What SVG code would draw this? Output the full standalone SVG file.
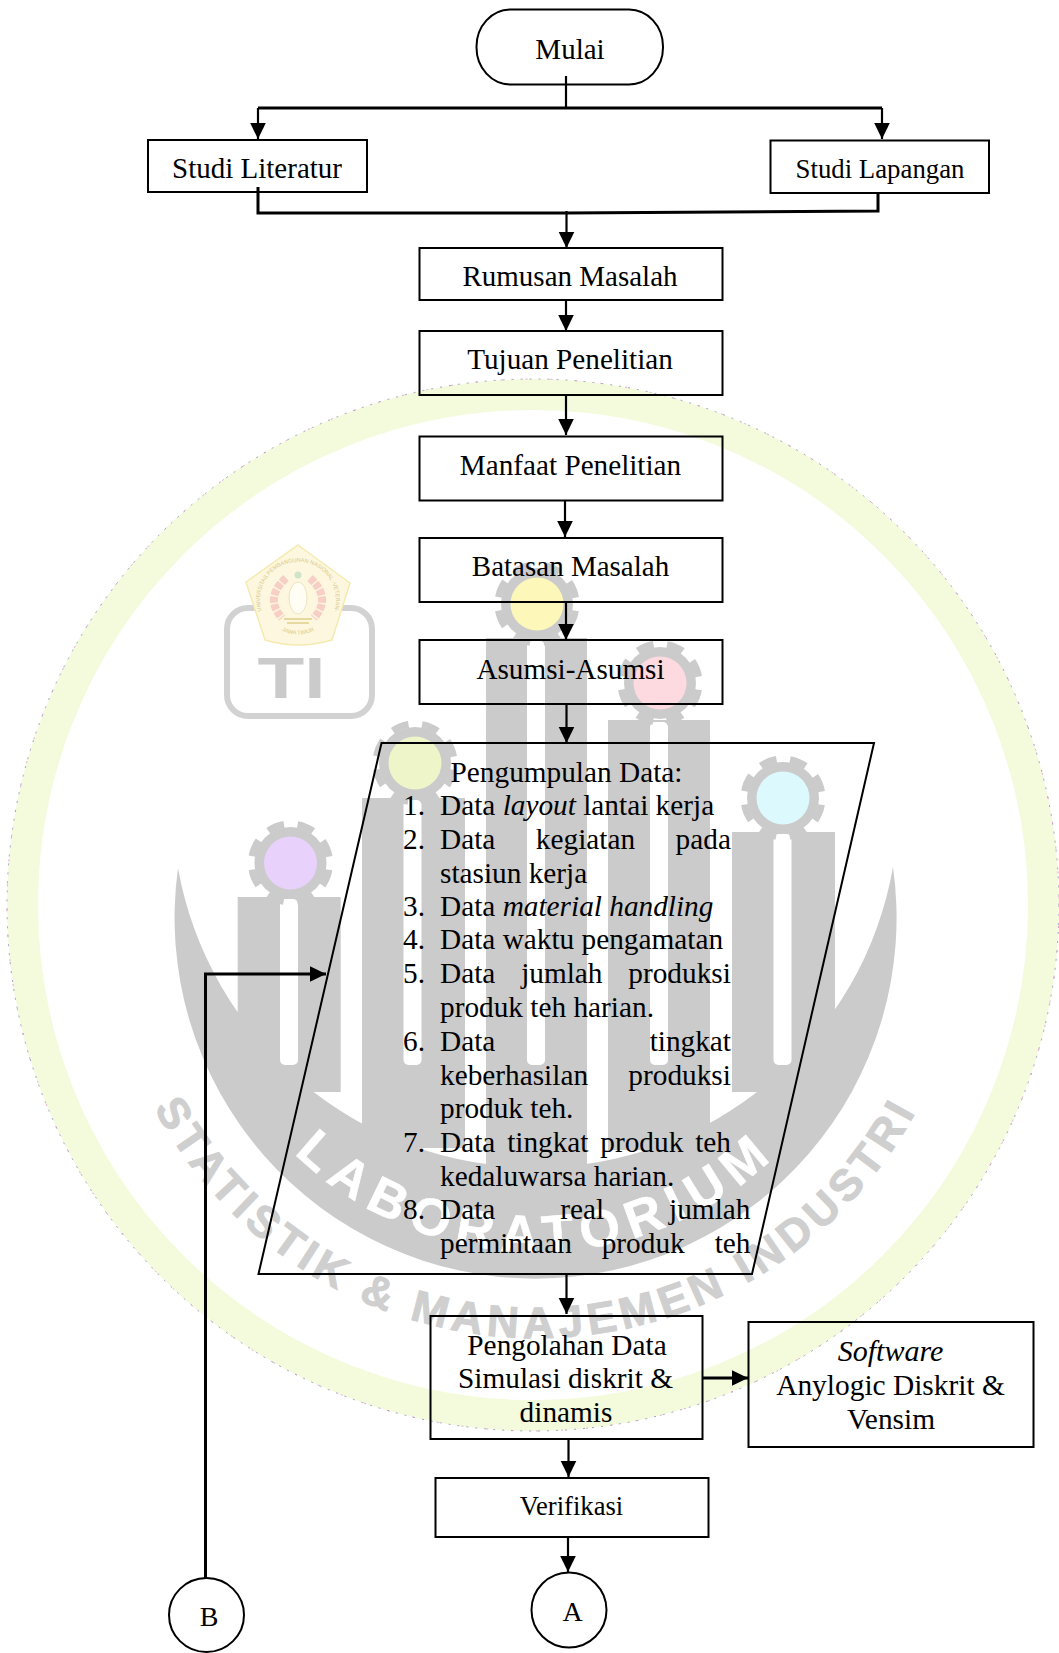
<svg xmlns="http://www.w3.org/2000/svg" width="1059" height="1653" viewBox="0 0 1059 1653">
<style>
text{font-family:"Liberation Serif","Times New Roman",serif;font-size:29px;fill:#000}
.c{text-anchor:middle}
.i{font-style:italic}
.l{font-size:29.3px}
.box{fill:none;stroke:#000;stroke-width:2}
.conn{fill:none;stroke:#000;stroke-width:2.2}
.thick{stroke-width:3}
.wm{font-family:"Liberation Sans",Arial,sans-serif;font-weight:700}
.stripe{fill:#fff}
.post{fill:#cbcbcb}
</style>
<defs>
<marker id="ah" markerUnits="userSpaceOnUse" markerWidth="17" markerHeight="17" refX="16" refY="8" orient="auto"><path d="M0,0.2 L16,8 L0,15.800 z" fill="#000"/></marker>
<g id="gear"><circle r="36" fill="#cbcbcb"/><circle r="39" fill="none" stroke="#cbcbcb" stroke-width="7" stroke-dasharray="17 13.63" stroke-dashoffset="-6.8"/></g>
<path id="arcOut" d="M144.500,1088.600 A432,432 0 0 0 927.500,1088.600"/>
<path id="arcIn" d="M261,1116 A346,346 0 0 0 811,1116"/>
<path id="sealTop" d="M262,612 A38,38 0 1 1 334,612"/>
<path id="sealBot" d="M276,627 A36,36 0 0 0 320,627"/>
</defs>
<rect width="1059" height="1653" fill="#fff"/>
<g id="watermark">
<circle cx="533" cy="905" r="510.500" fill="none" stroke="#f3fbdc" stroke-width="31"/>
<circle cx="533" cy="905" r="526" fill="none" stroke="#8d88b8" stroke-width=".8" stroke-dasharray="2 7"/>
<circle cx="533" cy="905" r="526" fill="none" stroke="#d890c8" stroke-width=".8" stroke-dasharray="2 23" stroke-dashoffset="4"/>
<path class="post" d="M178,868 A361,361 0 1 0 893,867 A363,363 0 0 1 178,868 z"/>
<rect class="post" x="237.700" y="897" width="103" height="195"/>
<rect class="post" x="362" y="798" width="103" height="350"/>
<rect class="post" x="486" y="638" width="101" height="540"/>
<rect class="post" x="608" y="720" width="102" height="430"/>
<rect class="post" x="732" y="832" width="103" height="260"/>
<rect class="stripe" x="280" y="899" width="18" height="166" rx="5"/>
<rect class="stripe" x="403.500" y="800" width="18" height="265" rx="5"/>
<rect class="stripe" x="527" y="641" width="18" height="424" rx="5"/>
<rect class="stripe" x="650" y="722" width="18" height="343" rx="5"/>
<rect class="stripe" x="773.500" y="834" width="18" height="231" rx="5"/>
<use href="#gear" x="290.500" y="863"/>
<use href="#gear" x="415" y="763"/>
<use href="#gear" x="537" y="604"/>
<use href="#gear" x="660" y="683"/>
<use href="#gear" x="783" y="798"/>
<ellipse cx="290.500" cy="863" rx="26.500" ry="26.500" fill="#e8d1fb"/>
<ellipse cx="415" cy="763" rx="26.500" ry="26.500" fill="#eef5c9"/>
<ellipse cx="537" cy="604" rx="26.500" ry="26.500" fill="#fdf8b9"/>
<ellipse cx="660" cy="683" rx="26.500" ry="26.500" fill="#fdd9e0"/>
<ellipse cx="783" cy="798" rx="26.500" ry="26.500" fill="#dcf9fd"/>
<text class="wm" style="font-size:52px;fill:#fff;stroke:#fff;stroke-width:.6px;letter-spacing:9.400px" text-anchor="middle"><textPath href="#arcIn" startOffset="50%">LABORATORIUM</textPath></text>
<text class="wm" style="font-size:44px;fill:#cfcfcf;stroke:#cfcfcf;stroke-width:1px;letter-spacing:5.200px" text-anchor="middle"><textPath href="#arcOut" startOffset="50%">STATISTIK &amp; MANAJEMEN INDUSTRI</textPath></text>
<rect x="227" y="608" width="145" height="108" rx="21" fill="none" stroke="#d2d2d2" stroke-width="6"/>
<text class="wm" x="291.500" y="698" textLength="68" lengthAdjust="spacingAndGlyphs" text-anchor="middle" style="font-size:58px;fill:#cbcbcb">TI</text>
<path d="M298,545 L350,583 L332,640 Q298,650 265,640 L246,582 z" fill="#fcf7de" stroke="#f5eab0" stroke-width="1.500"/>
<path d="M286,578 Q264,598 282,618 M310,578 Q332,598 314,618" fill="none" stroke="#f8cfc6" stroke-width="8" stroke-dasharray="6 1.500"/>
<ellipse cx="298" cy="598" rx="9" ry="16" fill="#fffdf4" stroke="#ece6c0" stroke-width="1"/>
<circle cx="298" cy="575" r="3.500" fill="#cfe4c8"/>
<path d="M284,619 H312 M287,623 H309" stroke="#e6d9a0" stroke-width="2" fill="none"/>
<text class="wm" style="font-size:5.500px;fill:#d9c98c;font-weight:400" text-anchor="middle"><textPath href="#sealTop" startOffset="50%">UNIVERSITAS PEMBANGUNAN NASIONAL -VETERAN-</textPath></text>
<text class="wm" style="font-size:5.500px;fill:#d9c98c;font-weight:400" text-anchor="middle"><textPath href="#sealBot" startOffset="50%">JAWA TIMUR</textPath></text>
</g>
<g id="connectors">
<path class="conn" d="M566,76 V108"/>
<path class="conn thick" d="M258,108 H882"/>
<path class="conn" d="M258,108 V139" marker-end="url(#ah)"/>
<path class="conn" d="M882,108 V139" marker-end="url(#ah)"/>
<path class="conn thick" d="M258,187 V213 H566 L878,211 V193"/>
<path class="conn" d="M566.500,211 V248" marker-end="url(#ah)"/>
<path class="conn" d="M566,300 V331" marker-end="url(#ah)"/>
<path class="conn" d="M566,395 V435" marker-end="url(#ah)"/>
<path class="conn" d="M565,500 V537" marker-end="url(#ah)"/>
<path class="conn" d="M566,602 V640" marker-end="url(#ah)"/>
<path class="conn" d="M566.500,704 V743" marker-end="url(#ah)"/>
<path class="conn" d="M566.500,1274 V1314" marker-end="url(#ah)"/>
<path class="conn thick" d="M702,1378 H748" marker-end="url(#ah)"/>
<path class="conn" d="M568.500,1439 V1477" marker-end="url(#ah)"/>
<path class="conn" d="M568,1537 V1572" marker-end="url(#ah)"/>
<path class="conn thick" d="M205.500,1578 V974 H326" marker-end="url(#ah)"/>
</g>
<g id="mulai"><rect class="box" x="476.500" y="9.500" width="186.500" height="75" rx="34" ry="37"/><text class="c" x="570" y="59">Mulai</text></g>
<g id="studi-literatur"><rect class="box" x="148" y="140" width="219" height="52"/><text class="c" x="257" y="178">Studi Literatur</text></g>
<g id="studi-lapangan"><rect class="box" x="770.500" y="140.500" width="218.500" height="52.500"/><text class="c" x="880" y="177.500" style="font-size:26.800px">Studi Lapangan</text></g>
<g id="rumusan"><rect class="box" x="419.500" y="248" width="303" height="52"/><text class="c" x="570" y="285.500">Rumusan Masalah</text></g>
<g id="tujuan"><rect class="box" x="419.500" y="331" width="303" height="64"/><text class="c" x="570" y="369" style="font-size:29.200px">Tujuan Penelitian</text></g>
<g id="manfaat"><rect class="box" x="419.500" y="436.500" width="303" height="64"/><text class="c" x="570.500" y="475" style="font-size:29.200px">Manfaat Penelitian</text></g>
<g id="batasan"><rect class="box" x="419.500" y="538" width="303" height="64"/><text class="c" x="570.500" y="576">Batasan Masalah</text></g>
<g id="asumsi"><rect class="box" x="419.500" y="640" width="303" height="64"/><text class="c" x="570.500" y="679" style="font-size:29.200px">Asumsi-Asumsi</text></g>
<g id="pengumpulan">
<polygon class="box" points="381.500,743 874,743 752,1274 258.500,1274"/>
<text class="c l" x="566.500" y="781.700">Pengumpulan Data:</text>
<text class="l" x="403" y="815">1.</text><text class="l" x="440" y="815">Data <tspan class="i">layout</tspan> lantai kerja</text>
<text class="l" x="403" y="848.500">2.</text><text class="l" x="440" y="848.500" word-spacing="33.200">Data kegiatan pada</text>
<text class="l" x="440" y="882.500">stasiun kerja</text>
<text class="l" x="403" y="915.500">3.</text><text class="l" x="440" y="915.500">Data <tspan class="i">material handling</tspan></text>
<text class="l" x="403" y="949">4.</text><text class="l" x="440" y="949">Data waktu pengamatan</text>
<text class="l" x="403" y="983">5.</text><text class="l" x="440" y="983" word-spacing="18.500">Data jumlah produksi</text>
<text class="l" x="440" y="1017">produk teh harian.</text>
<text class="l" x="403" y="1050.500">6.</text><text class="l" x="440" y="1050.500" word-spacing="147">Data tingkat</text>
<text class="l" x="440" y="1084.500" word-spacing="33">keberhasilan produksi</text>
<text class="l" x="440" y="1118">produk teh.</text>
<text class="l" x="403" y="1152">7.</text><text class="l" x="440" y="1152" word-spacing="4.500">Data tingkat produk teh</text>
<text class="l" x="440" y="1185.500">kedaluwarsa harian.</text>
<text class="l" x="403" y="1219">8.</text><text class="l" x="440" y="1219" word-spacing="57.600">Data real jumlah</text>
<text class="l" x="440" y="1253" word-spacing="22.600">permintaan produk teh</text>
</g>
<g id="pengolahan"><rect class="box" x="430.500" y="1316" width="272" height="123"/><text class="c l" x="567" y="1355">Pengolahan Data</text><text class="c l" x="565.500" y="1388">Simulasi diskrit &amp;</text><text class="c l" x="566" y="1421.500">dinamis</text></g>
<g id="software"><rect class="box" x="748.500" y="1322" width="285" height="125"/><text class="c i" x="890.500" y="1361" style="font-size:30px">Software</text><text class="c" x="890.500" y="1395" style="font-size:29.400px">Anylogic Diskrit &amp;</text><text class="c" x="891" y="1428.500" style="font-size:29.400px">Vensim</text></g>
<g id="verifikasi"><rect class="box" x="435.500" y="1478" width="273" height="59"/><text class="c" x="571.500" y="1515" style="font-size:26.600px">Verifikasi</text></g>
<g id="konektor-a"><circle class="box" cx="569" cy="1610" r="37.500"/><text class="c" x="572.500" y="1621" style="font-size:28px">A</text></g>
<g id="konektor-b"><ellipse class="box" cx="206.500" cy="1615" rx="37.500" ry="37"/><text class="c" x="209" y="1625.500" style="font-size:28px">B</text></g>
</svg>
